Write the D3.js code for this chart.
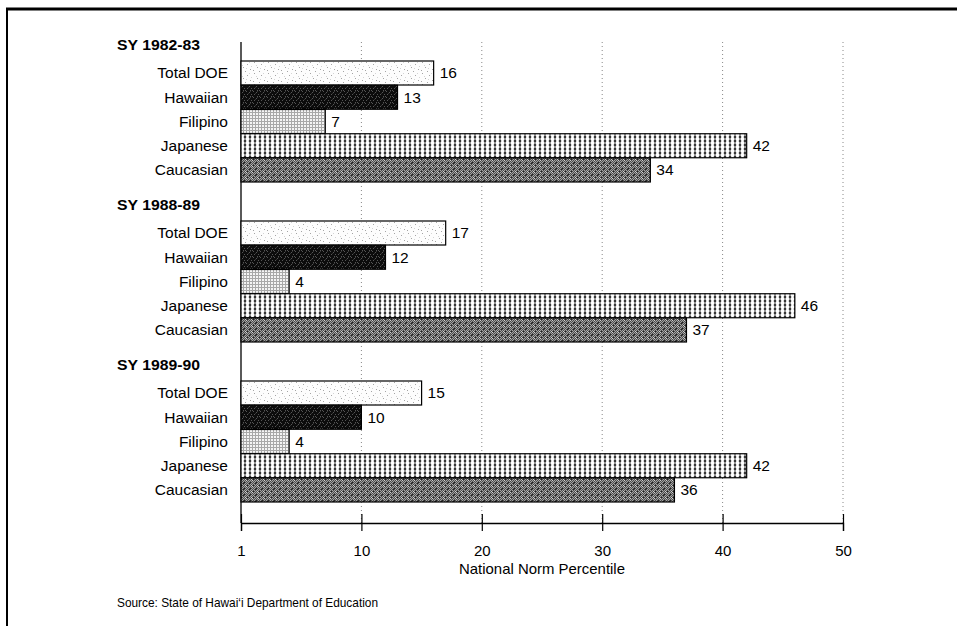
<!DOCTYPE html>
<html>
<head>
<meta charset="utf-8">
<script src="https://cdn.jsdelivr.net/npm/d3@7/dist/d3.min.js"></script>
<style>
  html, body { margin: 0; padding: 0; background: #fff; }
  svg { display: block; font-family: "Liberation Sans", Arial, Helvetica, sans-serif; }
</style>
</head>
<body>
<svg id="chart" width="957" height="626"></svg>
<script>
// School years (panel headings) and ethnic groups (bars within each panel)
const schoolYears = ["SY 1982-83", "SY 1988-89", "SY 1989-90"];
const categories = ["Total DOE", "Hawaiian", "Filipino", "Japanese", "Caucasian"];

// National norm percentile for each group, per school year
const values1982 = [16, 13, 7, 42, 34];
const values1988 = [17, 12, 4, 46, 37];
const values1990 = [15, 10, 4, 42, 36];
const seriesValues = [values1982, values1988, values1990];

// Axis ticks
const tickValues = [0, 10, 20, 30, 40, 50];
const tickLabels = ["1", "10", "20", "30", "40", "50"];

const svg = d3.select("#chart");

// ---- fill patterns for each group ----
const defs = svg.append("defs");

function pattern(id, w, h) {
  return defs.append("pattern").attr("id", id)
    .attr("patternUnits", "userSpaceOnUse")
    .attr("width", w).attr("height", h);
}
function dots(p, pts, color) {
  pts.forEach(([x, y]) => p.append("rect").attr("x", x).attr("y", y)
    .attr("width", 1).attr("height", 1).attr("fill", color));
}

// Total DOE: white with sparse gray stipple
{
  const p = pattern("pTotal", 14, 11);
  p.append("rect").attr("width", 14).attr("height", 11).attr("fill", "#fdfdfd");
  dots(p, [[2, 1], [9, 3], [5, 6], [12, 8], [1, 9], [7, 10]], "#a5a5a5");
  dots(p, [[11, 1], [4, 4], [13, 5], [8, 7]], "#d5d5d5");
}
// Hawaiian: near-black with dark gray speckles
{
  const p = pattern("pHawaiian", 7, 6);
  p.append("rect").attr("width", 7).attr("height", 6).attr("fill", "#0c0c0c");
  dots(p, [[1, 0], [4, 1], [6, 3], [2, 3], [0, 5], [5, 5]], "#555");
  dots(p, [[3, 2], [5, 0]], "#333");
}
// Filipino: light fine grid
{
  const p = pattern("pFilipino", 3, 3);
  p.append("rect").attr("width", 3).attr("height", 3).attr("fill", "#f4f4f4");
  p.append("rect").attr("width", 3).attr("height", 1).attr("fill", "#a8a8a8");
  p.append("rect").attr("width", 1).attr("height", 3).attr("fill", "#a8a8a8");
}
// Japanese: vertical chains of white ovals on black
{
  const p = pattern("pJapanese", 5, 4);
  p.append("rect").attr("width", 5).attr("height", 4).attr("fill", "#111");
  p.append("ellipse").attr("cx", 2.5).attr("cy", 2).attr("rx", 2.2).attr("ry", 2.1).attr("fill", "#fff");
}
// Caucasian: mid-gray dither with darker flecks
{
  const p = pattern("pCaucasian", 6, 6);
  p.append("rect").attr("width", 6).attr("height", 6).attr("fill", "#a2a2a2");
  const dark = [];
  for (let y = 0; y < 6; y++) for (let x = 0; x < 6; x++) if ((x + y) % 2 === 0) dark.push([x, y]);
  dots(p, dark, "#4c4c4c");
  dots(p, [[1, 2], [4, 5], [3, 0]], "#222");
  dots(p, [[0, 3], [5, 2]], "#d0d0d0");
}
const fills = ["url(#pTotal)", "url(#pHawaiian)", "url(#pFilipino)", "url(#pJapanese)", "url(#pCaucasian)"];

// ---- frame ----
svg.append("line").attr("x1", 6).attr("x2", 957).attr("y1", 9).attr("y2", 9)
  .attr("stroke", "#000").attr("stroke-width", 3);
svg.append("line").attr("x1", 7).attr("x2", 7).attr("y1", 8).attr("y2", 626)
  .attr("stroke", "#000").attr("stroke-width", 2);

// ---- scales ----
const x = d3.scaleLinear().domain([0, 50]).range([241, 843]);
const yGroup = d3.scaleBand().domain(schoolYears).range([61, 541]).padding(0);
const yBar = d3.scaleBand().domain(categories).range([0, 121]).paddingInner(0.01);

const plotTop = 42, axisY = 523;

// dotted vertical gridlines
svg.append("g").selectAll("line").data(tickValues.slice(1)).join("line")
  .attr("x1", d => x(d)).attr("x2", d => x(d))
  .attr("y1", plotTop).attr("y2", axisY)
  .attr("stroke", "#888").attr("stroke-width", 1)
  .attr("stroke-dasharray", "1,3");

// left axis line
svg.append("line").attr("x1", x(0)).attr("x2", x(0))
  .attr("y1", plotTop).attr("y2", axisY).attr("stroke", "#000").attr("stroke-width", 1.3);

// ---- bars ----
const groupsG = svg.append("g").selectAll("g").data(schoolYears).join("g")
  .attr("transform", d => `translate(0,${yGroup(d)})`);

groupsG.append("text")
  .attr("x", 117).attr("y", -16).attr("dy", "0.35em")
  .attr("font-size", 15).attr("font-weight", "bold")
  .attr("textLength", 83).attr("lengthAdjust", "spacingAndGlyphs")
  .text(d => d);

groupsG.each(function (year, gi) {
  const g = d3.select(this);
  const rows = categories.map((c, i) => ({ cat: c, value: seriesValues[gi][i], fill: fills[i] }));

  g.selectAll("text.cat").data(rows).join("text").attr("class", "cat")
    .attr("x", 228).attr("y", d => yBar(d.cat) + yBar.bandwidth() / 2).attr("dy", "0.35em")
    .attr("text-anchor", "end").attr("font-size", 15.5)
    .text(d => d.cat);

  g.selectAll("rect.bar").data(rows).join("rect").attr("class", "bar")
    .attr("x", x(0)).attr("y", d => yBar(d.cat))
    .attr("width", d => x(d.value) - x(0)).attr("height", yBar.bandwidth())
    .attr("fill", d => d.fill).attr("stroke", "#000").attr("stroke-width", 1.2);

  g.selectAll("text.val").data(rows).join("text").attr("class", "val")
    .attr("x", d => x(d.value) + 6).attr("y", d => yBar(d.cat) + yBar.bandwidth() / 2).attr("dy", "0.35em")
    .attr("font-size", 15.5)
    .text(d => d.value);
});

// ---- bottom axis ----
const axis = d3.axisBottom(x).tickValues(tickValues)
  .tickFormat((d, i) => tickLabels[i]).tickSize(8).tickPadding(14);
const axG = svg.append("g").attr("transform", `translate(0,${axisY})`).call(axis);
axG.select(".domain").attr("stroke", "#000").attr("stroke-width", 1.3);
axG.selectAll(".tick line").attr("y1", -9).attr("y2", 8).attr("stroke", "#000").attr("stroke-width", 1.2);
axG.selectAll(".tick text").attr("font-size", 15).attr("fill", "#000")
  .attr("font-family", "Liberation Sans, Arial, sans-serif");

svg.append("text").attr("x", x(25)).attr("y", 574).attr("text-anchor", "middle")
  .attr("font-size", 15).attr("textLength", 166).attr("lengthAdjust", "spacingAndGlyphs")
  .text("National Norm Percentile");

svg.append("text").attr("x", 117).attr("y", 607)
  .attr("font-size", 13).attr("textLength", 261).attr("lengthAdjust", "spacingAndGlyphs")
  .text("Source: State of Hawai\u2018i Department of Education");
</script>
</body>
</html>
